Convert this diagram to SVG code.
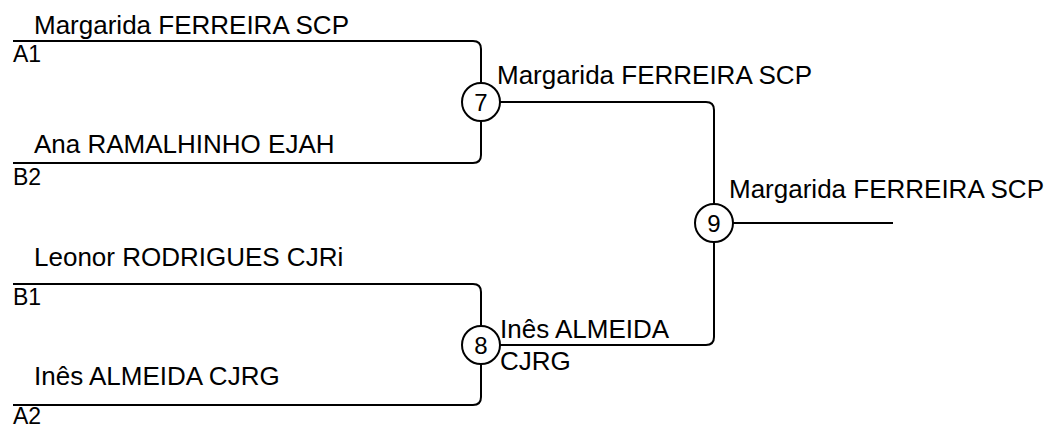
<svg xmlns="http://www.w3.org/2000/svg" width="1051" height="428" viewBox="0 0 1051 428">
<style>
.ln{fill:none;stroke:#000;stroke-width:2}
.c{fill:#fff;stroke:#000;stroke-width:2}
.t{font-family:"Liberation Sans",Arial,sans-serif;font-size:26px;fill:#000}
.s{font-family:"Liberation Sans",Arial,sans-serif;font-size:23px;fill:#000}
.n{font-family:"Liberation Sans",Arial,sans-serif;font-size:24px;fill:#000;text-anchor:middle}
</style>
<rect width="1051" height="428" fill="#fff"/>
<g id="connectors">
<path class="ln" d="M13,41 H473 Q481,41 481,49 V155 Q481,163 473,163 H13"/>
<path class="ln" d="M13,284 H473 Q481,284 481,292 V397 Q481,405 473,405 H13"/>
<path class="ln" d="M481,102 H706 Q714,102 714,110 V337 Q714,345 706,345 H481"/>
<path class="ln" d="M714,223 H893"/>
</g>
<g id="entry-a1"><text class="t" x="34" y="34">Margarida FERREIRA SCP</text><text class="s" x="13" y="62">A1</text></g>
<g id="entry-b2"><text class="t" x="34" y="153">Ana RAMALHINHO EJAH</text><text class="s" x="13" y="185">B2</text></g>
<g id="entry-b1"><text class="t" x="34" y="266">Leonor RODRIGUES CJRi</text><text class="s" x="13" y="305">B1</text></g>
<g id="entry-a2"><text class="t" x="34" y="385">Inês ALMEIDA CJRG</text><text class="s" x="13" y="424">A2</text></g>
<g id="match-7"><circle class="c" cx="481" cy="102" r="19"/><text class="n" x="481" y="110.5">7</text><text class="t" x="497" y="84">Margarida FERREIRA SCP</text></g>
<g id="match-8"><circle class="c" cx="481" cy="345" r="19"/><text class="n" x="481" y="353.5">8</text><text class="t" x="500" y="338">Inês ALMEIDA</text><text class="t" x="500" y="370">CJRG</text></g>
<g id="match-9"><circle class="c" cx="714" cy="223" r="19"/><text class="n" x="714" y="231.5">9</text><text class="t" x="729" y="198">Margarida FERREIRA SCP</text></g>
</svg>
